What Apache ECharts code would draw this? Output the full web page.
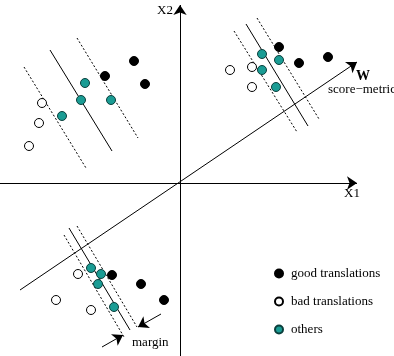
<!DOCTYPE html>
<html>
<head>
<meta charset="utf-8">
<script src="https://cdn.jsdelivr.net/npm/echarts@6/dist/echarts.min.js"></script>
<style>
  html, body { margin: 0; padding: 0; background: #fff; }
  #chart { width: 394px; height: 356px; }
</style>
</head>
<body>
<div id="chart"></div>
<script>
// points in (X1, X2) units, origin where the axes cross
var good = [[-46, 122], [-75, 107], [-35, 99], [99, 136], [119, 120], [148, 126], [-68, -92], [-39, -101], [-16, -117]];
var bad = [[-138, 80], [-141, 60], [-151, 37], [50, 113], [72, 116], [72, 96], [-102, -91], [-124, -117], [-89, -127]];
var others = [[-95, 100], [-99, 83], [-69, 83], [-118, 67], [82, 129], [99, 123], [82, 113], [96, 96], [-89, -85], [-79, -91], [-82, -101], [-66, -124]];

// separating lines and their margins
var solidLines = [
  [[-130, 133], [-68, 32]],
  [[66, 159], [128, 57]],
  [[-111, -45], [-50, -147]]
];
var dashedLines = [
  [[-156, 116], [-94, 15]],
  [[-103, 145], [-42, 45]],
  [[54, 152], [117, 51]],
  [[77, 165], [139, 64]],
  [[-116, -52], [-56, -154]],
  [[-103, -43], [-43, -144]]
];
var arrows = [
  [[-180, 0], [177, 0]],      // X1
  [[0, -173], [0, 178]],      // X2
  [[-160, -107], [177, 121]], // W
  [[-19, -131], [-42, -144]], // margin
  [[-78, -164], [-57, -152]]  // margin
];

var serif = '"Liberation Serif", "DejaVu Serif", serif';
var teal = '#1a9c94';

var myChart = echarts.init(document.getElementById('chart'), null, { renderer: 'canvas' });

function toLines(list) {
  return list.map(function (c) { return { coords: c }; });
}

var option = {
  animation: false,
  backgroundColor: '#fff',
  grid: { left: 0, right: 0, top: 0, bottom: 0 },
  xAxis: { type: 'value', min: -180, max: 214, show: false },
  yAxis: { type: 'value', min: -173, max: 183, show: false },
  legend: {
    orient: 'vertical',
    left: 269,
    top: 262,
    itemWidth: 14,
    itemHeight: 8,
    itemGap: 15,
    icon: 'circle',
    textStyle: { fontFamily: serif, fontSize: 13, color: '#000' },
    data: ['good translations', 'bad translations', 'others']
  },
  series: [
    {
      type: 'lines', coordinateSystem: 'cartesian2d', polyline: false, silent: true,
      lineStyle: { color: '#000', width: 1, type: 'solid', opacity: 1 },
      data: toLines(solidLines)
    },
    {
      type: 'lines', coordinateSystem: 'cartesian2d', polyline: false, silent: true,
      lineStyle: { color: '#000', width: 1, type: [2, 2], opacity: 1 },
      data: toLines(dashedLines)
    },
    {
      type: 'lines', coordinateSystem: 'cartesian2d', polyline: false, silent: true,
      symbol: ['none', 'arrow'], symbolSize: [6, 10],
      lineStyle: { color: '#000', width: 1, opacity: 1 },
      itemStyle: { color: '#000' },
      data: toLines(arrows)
    },
    {
      name: 'good translations', type: 'scatter', symbolSize: 9,
      itemStyle: { color: '#000', borderColor: '#000', borderWidth: 1, opacity: 1 },
      data: good
    },
    {
      name: 'bad translations', type: 'scatter', symbolSize: 9,
      itemStyle: { color: '#fff', borderColor: '#000', borderWidth: 1, opacity: 1 },
      data: bad
    },
    {
      name: 'others', type: 'scatter', symbolSize: 9,
      itemStyle: { color: teal, borderColor: '#0b3f3c', borderWidth: 1, opacity: 1 },
      data: others
    }
  ],
  graphic: [
    { type: 'text', left: 157, top: 4, style: { text: 'X2', font: '13px ' + serif, fill: '#000' } },
    { type: 'text', left: 344, top: 187, style: { text: 'X1', font: '13px ' + serif, fill: '#000' } },
    { type: 'text', left: 356, top: 69, style: { text: 'W', font: 'bold 14px ' + serif, fill: '#000' } },
    { type: 'text', left: 328, top: 83, style: { text: 'score−metric', font: '13px ' + serif, fill: '#000' } },
    { type: 'text', left: 132, top: 336, style: { text: 'margin', font: '13px ' + serif, fill: '#000' } }
  ]
};

myChart.setOption(option, true);
window.addEventListener('resize', myChart.resize);
</script>
</body>
</html>
